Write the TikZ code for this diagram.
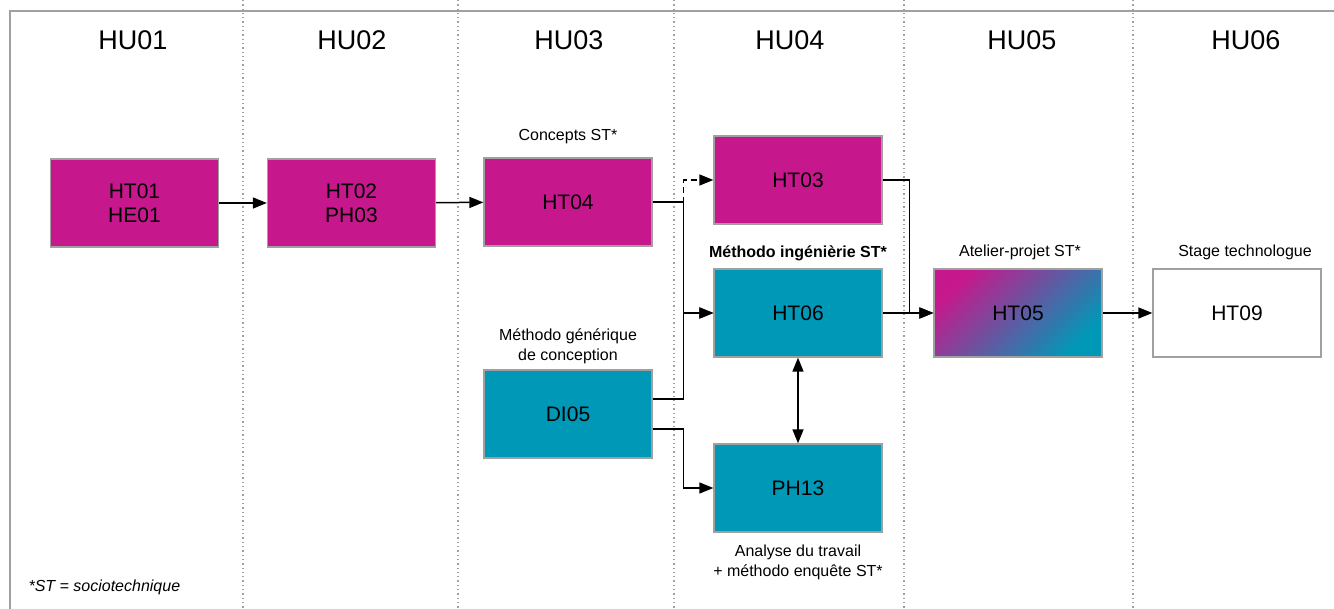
\documentclass[tikz,border=0pt]{standalone}
\usepackage{fontspec}
\setmainfont{Liberation Sans}
\usetikzlibrary{arrows.meta}
\definecolor{magHT}{RGB}{198,24,140}
\definecolor{tealHT}{RGB}{0,152,183}
\definecolor{frameGray}{RGB}{160,160,160}
\begin{document}
\begin{tikzpicture}[x=1pt,y=-1pt,>={Triangle[length=14pt,width=11pt]},
    box/.style={draw=frameGray,line width=1.3pt,minimum width=168pt,minimum height=88pt,
      inner sep=0pt,align=center,font=\fontsize{21}{24}\selectfont},
    mag/.style={box,fill=magHT},
    tea/.style={box,fill=tealHT},
    lab/.style={align=center,font=\fontsize{16}{20}\selectfont},
    link/.style={->,line width=1.5pt}]

    \useasboundingbox (0,0) rectangle (1334,609);

    % frame and semester columns
    \draw[frameGray,line width=1.5pt] (1334,11) -- (10,11) -- (10,609);
    \foreach \x in {243,458,674,904,1133}
      \draw[frameGray,line width=1.3pt,dash pattern=on 1.3pt off 3pt] (\x,0) -- (\x,609);
    \foreach \hu/\x in {HU01/133,HU02/352,HU03/569,HU04/790,HU05/1022,HU06/1246}
      \node[font=\fontsize{27}{30}\selectfont] (\hu) at (\x,40) {\hu};

    \node[mag] (HT01) at (134.5,203) {HT01\\HE01};
    \node[mag] (HT02) at (351.5,203) {HT02\\PH03};
    \node[mag] (HT04) at (568,202) {HT04};
    \node[mag] (HT03) at (798,180) {HT03};
    \node[tea] (HT06) at (798,313) {HT06};
    \node[tea] (DI05) at (568,414) {DI05};
    \node[tea] (PH13) at (798,488) {PH13};
    \node[box,left color=magHT,right color=tealHT,shading angle=45] (HT05) at (1018,313) {HT05};
    \node[box] (HT09) at (1237,313) {HT09};

    \node[lab] (lConcepts) at (568,137) {Concepts ST*};
    \node[lab,font=\fontsize{16}{20}\bfseries] (lIngenierie) at (798,253) {Méthodo ingénièrie ST*};
    \node[lab] (lGenerique) at (568,346) {Méthodo générique\\de conception};
    \node[lab] (lAtelier) at (1020,252) {Atelier-projet ST*};
    \node[lab] (lStage) at (1245,252) {Stage technologue};
    \node[lab] (lAnalyse) at (798,562) {Analyse du travail\\+ méthodo enquête ST*};
    \node[lab,anchor=west,font=\fontsize{16}{20}\itshape] (lNote) at (25,587) {*ST = sociotechnique};

    \draw[link] (HT01) -- (HT02);
    \draw[link] (HT02) -- (HT04);
    \draw[link] (HT04.east) -- ++(31,0) |- (HT06.west);
    \draw[link,dash pattern=on 6pt off 4pt] (HT04.east) -- ++(31,0) |- (HT03.west);
    \draw[link] ([yshift=15pt]DI05.east) -- ++(31,0) |- (HT06.west);
    \draw[link] ([yshift=-15pt]DI05.east) -- ++(31,0) |- (PH13.west);
    \draw[link,<->] (HT06) -- (PH13);
    \draw[link] (HT03.east) -- ++(27,0) |- (HT05.west);
    \draw[link] (HT06) -- (HT05);
    \draw[link] (HT05) -- (HT09);
\end{tikzpicture}
\end{document}
